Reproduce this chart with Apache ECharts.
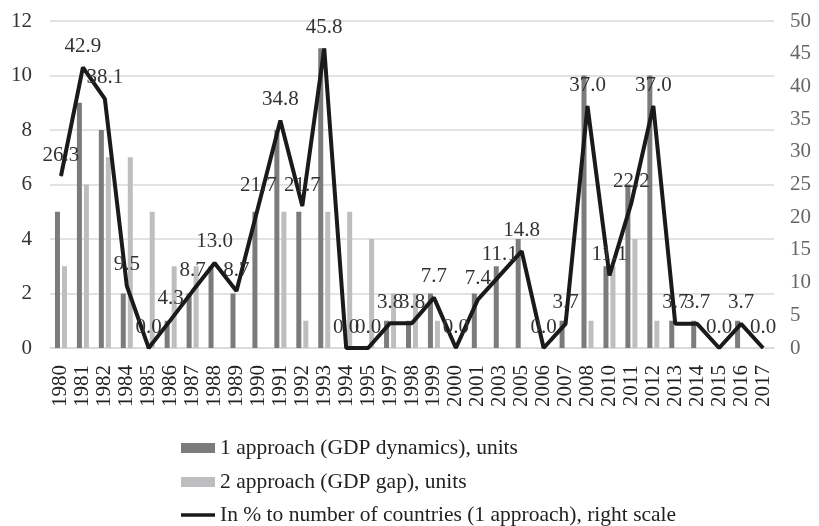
<!DOCTYPE html>
<html><head><meta charset="utf-8">
<script src="https://cdn.jsdelivr.net/npm/echarts@6/dist/echarts.min.js"></script>
<style>html,body{margin:0;padding:0;background:#fff}#c{width:819px;height:526px}</style>
</head><body><div id="c"></div>
<script>
const years = ['1980','1981','1982','1984','1985','1986','1987','1988','1989','1990','1991','1992','1993','1994','1995','1997','1998','1999','2000','2001','2003','2005','2006','2007','2008','2010','2011','2012','2013','2014','2015','2016','2017'];
const approach1 = [5,9,8,2,0,1,2,3,2,5,8,5,11,0,0,1,1,2,0,2,3,4,0,1,10,3,6,10,1,1,0,1,0];
const approach2 = [3,6,7,7,5,3,3,0,0,0,5,1,5,5,4,2,2,1,0,0,0,0,0,0,1,3,4,1,0,0,0,0,0];
const percent = [26.3,42.9,38.1,9.5,0.0,4.3,8.7,13.0,8.7,21.7,34.8,21.7,45.8,0.0,0.0,3.8,3.8,7.7,0.0,7.4,11.1,14.8,0.0,3.7,37.0,11.1,22.2,37.0,3.7,3.7,0.0,3.7,0.0];
const leftTicks = [0,2,4,6,8,10,12];
const rightTicks = [0,5,10,15,20,25,30,35,40,45,50];

const font = 'Liberation Serif';
const names = ['1 approach (GDP dynamics), units', '2 approach (GDP gap), units', 'In % to number of countries (1 approach), right scale'];
const icons = ['rect', 'rect', 'path://M0,0 H34 V3.5 H0 Z'];
const legendTops = [437, 471, 504];
const chart = echarts.init(document.getElementById('c'));
chart.setOption({
  animation: false,
  textStyle: {fontFamily: font},
  grid: {left: 50, right: 45, top: 21, bottom: 178},
  legend: names.map((n, i) => ({
    orient: 'horizontal', left: 181, top: legendTops[i], padding: 0,
    textStyle: {fontFamily: font, fontSize: 21.5, color: '#222'},
    itemWidth: 34, itemHeight: 10,
    data: [{name: n, icon: icons[i]}]
  })),
  xAxis: {
    type: 'category', data: years,
    axisLine: {lineStyle: {color: '#d9d9d9', width: 1.5}},
    axisTick: {show: false},
    axisLabel: {rotate: 90, interval: 0, color: '#222', fontSize: 21, fontFamily: font, margin: 17}
  },
  yAxis: [
    {type: 'value', min: 0, max: 12, interval: 2,
     axisLabel: {color: '#333', fontSize: 21, fontFamily: font, margin: 18},
     splitLine: {lineStyle: {color: '#d9d9d9', width: 1.5}},
     axisLine: {show: false}, axisTick: {show: false}},
    {type: 'value', min: 0, max: 50, interval: 5,
     axisLabel: {color: '#666', fontSize: 21, fontFamily: font, margin: 16},
     splitLine: {show: false}, axisLine: {show: false}, axisTick: {show: false}}
  ],
  series: [
    {name: names[0], type: 'bar', data: approach1,
     barWidth: 5, barGap: '40%', itemStyle: {color: '#7b7b7d'}},
    {name: names[1], type: 'bar', data: approach2,
     barWidth: 5, itemStyle: {color: '#bebec0'}},
    {name: names[2], type: 'line',
     yAxisIndex: 1, data: percent, symbol: 'circle', symbolSize: 1, showSymbol: true,
     lineStyle: {color: '#1a1a1a', width: 4}, itemStyle: {color: '#1a1a1a'},
     label: {show: true, position: 'top', distance: 10, fontSize: 21, fontFamily: font, color: '#333',
       formatter: p => p.value.toFixed(1)}}
  ]
});
</script></body></html>
